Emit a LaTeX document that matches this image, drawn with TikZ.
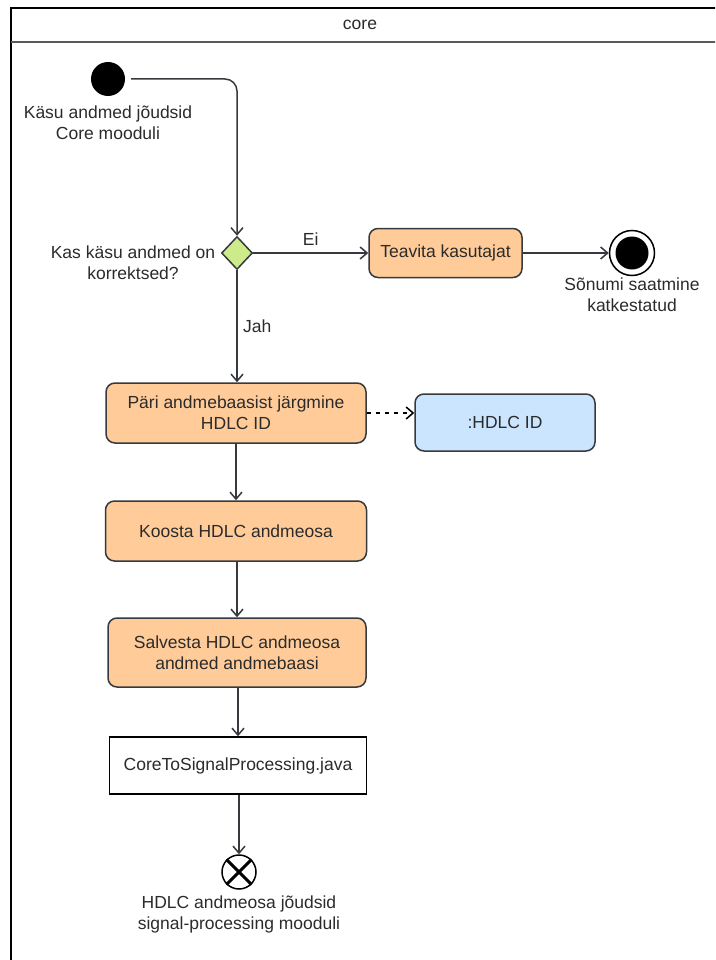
\documentclass[tikz,border=0pt]{standalone}
\usepackage{fontspec}
\setmainfont{Liberation Sans}
\usetikzlibrary{arrows.meta,positioning,shapes.geometric}
\definecolor{actfill}{HTML}{FFCC99}
\definecolor{actline}{HTML}{36393D}
\definecolor{objfill}{HTML}{CCE5FF}
\definecolor{decfill}{HTML}{CDEB8B}
\definecolor{txt}{HTML}{2B2B2B}

\begin{document}
\begin{tikzpicture}[x=1pt,y=-1pt,>={Straight Barb[length=7pt,width=12pt]},every node/.style={font=\fontsize{17.5}{21}\selectfont,text=txt},action/.style={draw=actline,fill=actfill,rounded corners=9pt,line width=1.5pt,align=center,inner sep=0pt},object/.style={draw=actline,fill=objfill,rounded corners=9pt,line width=1.5pt,align=center,inner sep=0pt},plainbox/.style={draw=black,fill=white,line width=1.5pt,align=center,inner sep=0pt},decision/.style={diamond,draw=actline,fill=decfill,line width=1.5pt,inner sep=0pt,minimum width=31pt,minimum height=33pt},caption/.style={align=center,inner sep=0pt},flow/.style={->,line width=1.5pt,draw=actline},dataflow/.style={->,line width=1.5pt,draw=black,dash pattern=on 4.5pt off 4.5pt}]
\useasboundingbox (0,0) rectangle (715,960);
\clip (0,0) rectangle (715,960);
% swimlane
\draw[line width=2pt] (11,975) -- (11,8) -- (730,8);
\draw[line width=2pt,draw=black!65] (11,42) -- (730,42);
\node (lane) at (360,25) {core};
% start and decision
\node[circle,fill=black,minimum size=34pt,inner sep=0pt] (start) at (108,79) {};
\node[caption] (startlbl) at (108,123) {Käsu andmed jõudsid\\Core mooduli};
\node[decision] (check) at (237,253) {};
\node[caption] (checklbl) at (133,263) {Kas käsu andmed on\\korrektsed?};
\node[action,minimum width=153pt,minimum height=49pt] (notify) at (445.5,253) {Teavita kasutajat};
\node[circle,draw=black,line width=1.5pt,minimum size=45pt,inner sep=0pt] (endring) at (632,253) {};
\node[circle,fill=black,minimum size=33pt,inner sep=0pt] (enddot) at (632,253) {};
\node[caption] (endlbl) at (632,295) {Sõnumi saatmine\\katkestatud};
% main flow
\node[action,minimum width=260pt,minimum height=60pt] (query) at (236,413) {Päri andmebaasist järgmine\\HDLC ID};
\node[object,minimum width=180pt,minimum height=57pt] (hdlcid) at (505,422.5) {:HDLC ID};
\node[action,minimum width=261pt,minimum height=60pt] (build) at (236,531) {Koosta HDLC andmeosa};
\node[action,minimum width=258pt,minimum height=69pt] (store) at (237,652.5) {Salvesta HDLC andmeosa\\andmed andmebaasi};
\node[plainbox,minimum width=257pt,minimum height=57pt] (java) at (238,765.5) {CoreToSignalProcessing.java};
\node[circle,draw=black,line width=1.5pt,minimum size=34pt,inner sep=0pt] (flowend) at (239,872) {};
\draw[line width=3pt] (flowend.north west) -- (flowend.south east);
\draw[line width=3pt] (flowend.north east) -- (flowend.south west);
\node[caption] (flowendlbl) at (239,914) {HDLC andmeosa jõudsid\\signal-processing mooduli};
% connectors
\draw[flow,rounded corners=12pt,shorten <=6pt] (start.east) -| (check.north);
\draw[flow] (check.east) -- node[above=3pt] (nolbl) {Ei} (notify.west);
\draw[flow] (notify.east) -- (endring.west);
\draw[flow] (check.south) -- node[right=2pt,pos=0.5] (yeslbl) {Jah} (check.south |- query.north);
\draw[dataflow] (query.east) -- (query.east -| hdlcid.west);
\draw[flow] (query.south -| build.north) -- (build.north);
\draw[flow] (build.south -| store.north) -- (store.north);
\draw[flow] (store.south -| java.north) -- (java.north);
\draw[flow] (java.south -| flowend.north) -- (flowend.north);
\end{tikzpicture}
\end{document}
